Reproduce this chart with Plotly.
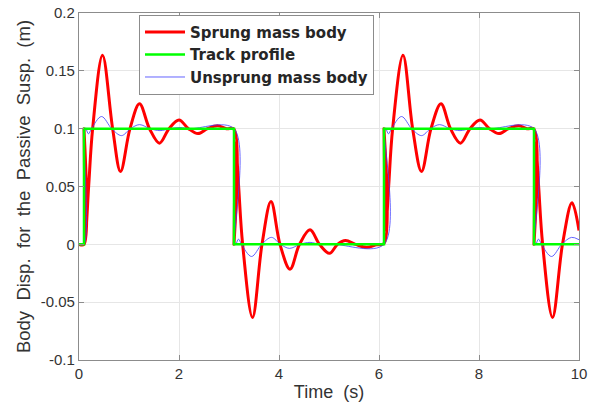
import plotly.graph_objects as go

# ---------------- data ----------------
# Track profile (square steps)
track_t = [0, 0.1, 0.1, 3.1, 3.1, 6.1, 6.1, 9.1, 9.1, 10.0]
track_y = [0, 0, 0.1, 0.1, 0, 0, 0.1, 0.1, 0, 0]

# Sprung mass body (key points: steps, crossings, extrema)
sprung_t = [0, 0.1, 0.1, 0.135, 0.193, 0.273, 0.47, 0.673, 0.83, 1.02, 1.21, 1.41,
            1.61, 1.80, 2.00, 2.19, 2.38, 2.57, 2.77, 2.95, 3.1,
            3.1, 3.135, 3.193, 3.273, 3.47, 3.66, 3.84, 4.02, 4.22, 4.41, 4.62,
            4.81, 5.01, 5.17, 5.33, 5.53, 5.75, 5.95, 6.1,
            6.1, 6.135, 6.193, 6.273, 6.48, 6.673, 6.85, 7.04, 7.24, 7.43,
            7.63, 7.82, 8.02, 8.21, 8.40, 8.59, 8.79, 8.96, 9.1,
            9.1, 9.135, 9.193, 9.273, 9.47, 9.67, 9.86, 10.0]
sprung_y = [0, 0, 0.1, 0.012, 0.05, 0.1, 0.1635, 0.1, 0.063, 0.1, 0.1215, 0.1,
            0.0875, 0.1, 0.1075, 0.1, 0.0958, 0.1, 0.1025, 0.1, 0.0995,
            0, 0.088, 0.05, 0.0, -0.0632, 0.0, 0.037, 0.0, -0.0215, 0.0, 0.0125,
            0.0, -0.0078, 0.0, 0.0033, 0.0, -0.0026, -0.0005, 0.0008,
            0.1, 0.012, 0.05, 0.1, 0.1635, 0.1, 0.063, 0.1, 0.1215, 0.1,
            0.0875, 0.1, 0.1075, 0.1, 0.0958, 0.1, 0.1025, 0.1, 0.0995,
            0, 0.088, 0.05, 0.0, -0.0632, 0.0, 0.036, 0.012]

# Unsprung mass body
unsprung_t = [0, 0.1, 0.112, 0.13, 0.19, 0.25, 0.45, 0.655, 0.85, 1.03, 1.21, 1.42,
              1.62, 1.82, 2.02, 2.22, 3.1,
              3.112, 3.13, 3.19, 3.25, 3.45, 3.655, 3.85, 4.03, 4.21, 4.42, 4.62,
              4.82, 5.1, 6.1,
              6.112, 6.13, 6.19, 6.25, 6.45, 6.655, 6.85, 7.03, 7.21, 7.42,
              7.62, 7.82, 8.02, 8.22, 9.1,
              9.112, 9.13, 9.19, 9.25, 9.45, 9.655, 9.85, 10.0]
unsprung_y = [0, 0, 0.1, 0.1005, 0.0955, 0.1, 0.1105, 0.1, 0.094, 0.1, 0.1035, 0.1,
              0.0983, 0.1, 0.101, 0.1, 0.1,
              0, -0.0005, 0.0045, 0, -0.0105, 0, 0.006, 0, -0.0035, 0, 0.0017,
              0, 0, 0,
              0.1, 0.1005, 0.0955, 0.1, 0.1105, 0.1, 0.094, 0.1, 0.1035, 0.1,
              0.0983, 0.1, 0.101, 0.1, 0.1,
              0, -0.0005, 0.0045, 0, -0.0105, 0, 0.006, 0.004]

x_ticks = [0, 2, 4, 6, 8, 10]
x_tick_text = ["0", "2", "4", "6", "8", "10"]
y_ticks = [-0.1, -0.05, 0, 0.05, 0.1, 0.15, 0.2]
y_tick_text = ["-0.1", "-0.05", "0", "0.05", "0.1", "0.15", "0.2"]

FONT = "Liberation Sans, Arial, sans-serif"
AXIS_GRAY = "#8c8c8c"
TEXT = "#333333"

fig = go.Figure()
fig.add_trace(go.Scatter(
    x=sprung_t, y=sprung_y, mode="lines", name="Sprung mass body",
    line=dict(color="#ff0000", width=3, shape="spline", smoothing=1.0),
    legendrank=1))
fig.add_trace(go.Scatter(
    x=unsprung_t, y=unsprung_y, mode="lines", name="Unsprung mass body",
    line=dict(color="#3c3cff", width=0.8, shape="spline", smoothing=1.0),
    legendrank=3))
fig.add_trace(go.Scatter(
    x=track_t, y=track_y, mode="lines", name="Track profile",
    line=dict(color="#00ff00", width=2.5),
    legendrank=2))

axis_common = dict(
    showgrid=True, gridcolor="#e6e6e6", gridwidth=1,
    showline=True, linecolor=AXIS_GRAY, linewidth=1.2, mirror="ticks",
    ticks="inside", ticklen=5, tickcolor=AXIS_GRAY, tickwidth=1,
    zeroline=False, automargin=False,
    tickfont=dict(family=FONT, size=15, color=TEXT),
)

fig.update_layout(
    width=593, height=406,
    margin=dict(l=79, r=14, t=13, b=46),
    paper_bgcolor="white", plot_bgcolor="white",
    xaxis=dict(range=[0, 10], tickvals=x_ticks, ticktext=x_tick_text,
               title=dict(text="Time\u00a0 (s)", font=dict(family=FONT, size=18, color=TEXT),
                          standoff=4),
               **axis_common),
    yaxis=dict(range=[-0.1, 0.2], tickvals=y_ticks, ticktext=y_tick_text,
               title=dict(text="Body\u00a0 Disp.\u00a0 for\u00a0 the\u00a0 Passive\u00a0 Susp.\u00a0 (m)",
                          font=dict(family=FONT, size=18.5, color=TEXT), standoff=5),
               **axis_common),
    legend=dict(x=0.12, y=0.995, xanchor="left", yanchor="top",
                bgcolor="white", bordercolor=AXIS_GRAY, borderwidth=1,
                font=dict(family="DejaVu Sans, sans-serif", size=15, color="#262626",
                          weight="bold"),
                itemwidth=40, tracegroupgap=0),
    showlegend=True,
)

fig.write_html(
    "out.html",
    config={"displayModeBar": False},
    post_script="document.body.style.margin='0';document.body.style.overflow='hidden';",
)
